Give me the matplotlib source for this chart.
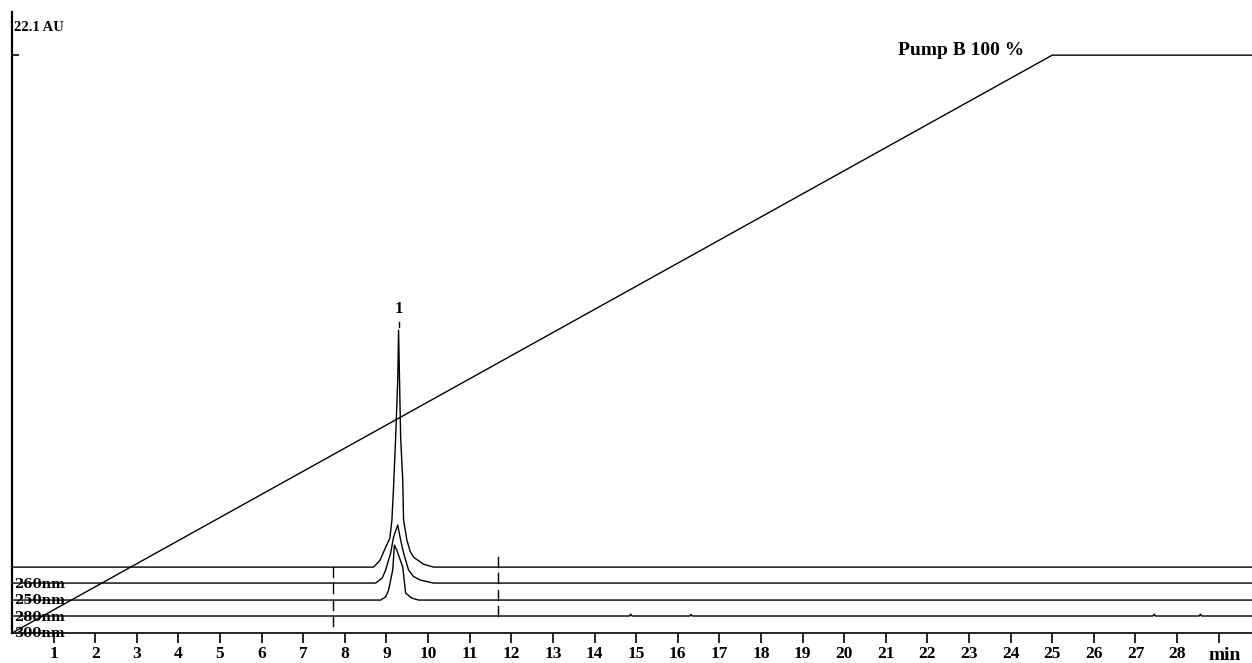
import numpy as np
import matplotlib.pyplot as plt

# Overlay of 4 UV channels + pump B gradient
channels = ['260nm', '250nm', '280nm', '300nm']
offsets = [2.52, 1.91, 1.26, 0.65]          # AU, stacked baselines

# peak 1 for each channel (time in min, signal above baseline in AU)
peak_t = [
    [8.69, 8.84, 8.98, 9.08, 9.13, 9.17, 9.22, 9.27, 9.29, 9.34, 9.39, 9.41, 9.49, 9.57, 9.65, 9.89, 10.13],
    [8.74, 8.90, 8.98, 9.10, 9.17, 9.27, 9.34, 9.41, 9.53, 9.65, 9.82, 10.13],
    [8.86, 8.98, 9.05, 9.15, 9.19, 9.25, 9.39, 9.46, 9.60, 9.77],
]
peak_h = [
    [0, 0.25, 0.76, 1.10, 1.80, 3.06, 4.97, 7.15, 9.06, 4.97, 3.33, 1.80, 1.03, 0.60, 0.38, 0.11, 0],
    [0, 0.20, 0.50, 1.15, 1.76, 2.22, 1.64, 1.15, 0.50, 0.25, 0.11, 0],
    [0, 0.12, 0.38, 1.15, 2.10, 1.90, 1.26, 0.27, 0.08, 0],
]
# small spikes on the 300nm trace
blip_t = [14.87, 16.32, 27.45, 28.56]
blip_h = [0.07, 0.06, 0.07, 0.07]

run_end = 29.8
delim_start, delim_end = 7.71, 11.67

pump_t = [0, 25, run_end]
pump_b = [0, 100, 100]

au_max = 22.1
ytop = 23.75

plt.rcParams['font.family'] = 'Liberation Serif'

fig = plt.figure(figsize=(12.52, 6.63), dpi=100)
ax = fig.add_axes([12/1252, 30/663, 1240/1252, 621/663])

lw = 1.0
for i, (name, off) in enumerate(zip(channels, offsets)):
    if i < len(peak_t):
        t = [0] + peak_t[i] + [run_end]
        h = [0] + peak_h[i] + [0]
    else:
        t = [0]
        h = [0]
        for bt, bh in zip(blip_t, blip_h):
            t += [bt - 0.03, bt, bt + 0.03]
            h += [0, bh, 0]
        t += [run_end]
        h += [0]
    ax.plot(t, np.array(h) + off, color='black', lw=lw)
    # integration delimiters
    ax.plot([delim_start, delim_start], [off - 0.38, off], color='black', lw=lw)
    ax.plot([delim_end, delim_end], [off, off + 0.38], color='black', lw=lw)
    ax.annotate(name, xy=(0, off), xytext=(2, -17), textcoords='offset pixels',
                ha='left', va='center', fontsize=9.5, fontweight='bold',
                family='DejaVu Serif')

# peak label
apex = offsets[0] + max(peak_h[0])
ax.plot([9.29, 9.29], [apex + 0.12, apex + 0.32], color='black', lw=lw)
ax.text(9.29, apex + 0.8, '1', ha='center', va='center', fontsize=12, fontweight='bold')

ax.set_xlim(0, run_end)
ax.set_ylim(0, ytop)
for s in ['top', 'right']:
    ax.spines[s].set_visible(False)
ax.spines['left'].set_linewidth(1.6)
ax.spines['bottom'].set_linewidth(1.2)

ticks = list(range(1, 30))
ax.set_xticks(ticks)
ax.set_xticklabels([str(k) for k in range(1, 29)] + [''], fontsize=12.5, fontweight='bold')
ax.tick_params(axis='x', direction='out', length=7, width=1.2, pad=2)
ax.set_yticks([au_max])
ax.set_yticklabels([''])
ax.tick_params(axis='y', direction='in', length=5, width=1.2)
ax.text(0.05, 23.17, '22.1 AU', ha='left', va='center', fontsize=10.5, fontweight='bold')
ax.annotate('min', xy=(29.15, 0), xytext=(0, -22), textcoords='offset pixels',
            ha='center', va='center', fontsize=14, fontweight='bold')

# pump gradient on its own scale
ax2 = ax.twinx()
ax2.set_ylim(0, 100 * ytop / au_max)
ax2.plot(pump_t, pump_b, color='black', lw=lw)
ax2.text(24.32, 100.8, 'Pump B 100 %', ha='right', va='center', fontsize=14, fontweight='bold')
ax2.axis('off')

plt.savefig('out.png', dpi=100)
